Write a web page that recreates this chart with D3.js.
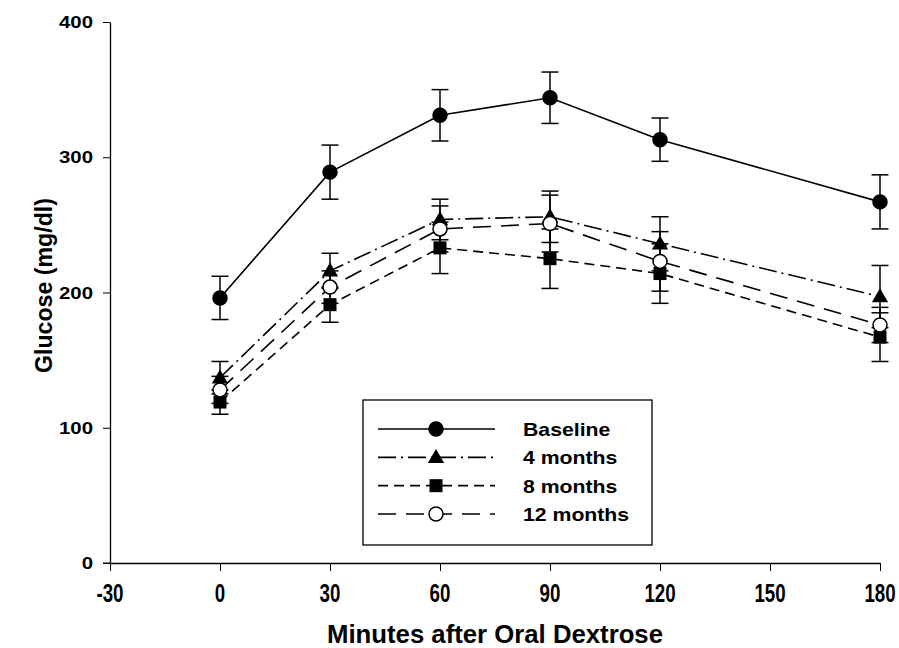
<!DOCTYPE html>
<html>
<head>
<meta charset="utf-8">
<script src="https://cdn.jsdelivr.net/npm/d3@7"></script>
<style>
  body { margin: 0; background: #fff; }
  text { font-family: "Liberation Sans", Arial, sans-serif; font-weight: bold; fill: #000; }
</style>
</head>
<body>
<div id="chart"></div>
<script>
// data
var minutes = [0, 30, 60, 90, 120, 180];
var seriesNames = ["Baseline", "4 months", "8 months", "12 months"];
var baseline    = [196, 289, 331, 344, 313, 267];
var baselineErr = [16, 20, 19, 19, 16, 20];
var month4      = [137, 216, 254, 256, 236, 197];
var month4Err   = [12, 13, 15, 19, 20, 23];
var month8      = [119, 191, 233, 225, 214, 167];
var month8Err   = [9, 13, 19, 22, 22, 18];
var month12     = [128, 204, 247, 251, 223, 176];
var month12Err  = [10, 12, 17, 21, 22, 13];
var xTicks = [-30, 0, 30, 60, 90, 120, 150, 180];
var yTicks = [0, 100, 200, 300, 400];

var W = 899, H = 648;
var svg = d3.select("#chart").append("svg").attr("width", W).attr("height", H);

var x = d3.scaleLinear().domain([-30, 180]).range([110, 880]);
var y = d3.scaleLinear().domain([0, 400]).range([563, 22]);

// series styles
var styles = [
  {dash: null,          marker: "circle",   fill: "#000"},
  {dash: "18,5,2,5",    marker: "triangle", fill: "#000"},
  {dash: "10,6",        marker: "square",   fill: "#000"},
  {dash: "18,10",       marker: "circle",   fill: "#fff"}
];
var values = [baseline, month4, month8, month12];
var errs = [baselineErr, month4Err, month8Err, month12Err];

var series = seriesNames.map(function(n, i) {
  return {name: n, style: styles[i], pts: minutes.map(function(m, j) {
    return {x: m, y: values[i][j], e: errs[i][j]};
  })};
});

// text with horizontal squeeze/stretch (the scan is not square)
function stext(g, tx, ty, sx, size, anchor, str) {
  return g.append("text").attr("transform", "translate(" + tx + "," + ty + ") scale(" + sx + ",1)")
    .attr("text-anchor", anchor).style("font-size", size + "px").text(str);
}

// axes
var yAxis = d3.axisLeft(y).tickValues(yTicks).tickSize(7).tickFormat("").tickSizeOuter(0);
svg.append("g").attr("transform", "translate(110,0)").call(yAxis);
yTicks.forEach(function(t) { stext(svg, 93, y(t) + 6, 1.2, 17, "end", String(t)); });

var xAxis = d3.axisBottom(x).tickValues(xTicks).tickSize(8).tickFormat("").tickSizeOuter(0);
svg.append("g").attr("transform", "translate(0,563)").call(xAxis);
xTicks.forEach(function(t) { stext(svg, x(t), 602, 0.72, 26, "middle", String(t)); });
svg.append("line").attr("x1", 103).attr("x2", 110).attr("y1", 563).attr("y2", 563).attr("stroke", "#000");
svg.selectAll(".domain").attr("stroke-width", 1.3);

// axis titles
svg.append("text").attr("x", 495 - 168).attr("y", 643)
  .attr("textLength", 336).attr("lengthAdjust", "spacingAndGlyphs")
  .style("font-size", "26px").text("Minutes after Oral Dextrose");
svg.append("text").attr("transform", "translate(52,373) rotate(-90)")
  .attr("textLength", 175).attr("lengthAdjust", "spacingAndGlyphs")
  .style("font-size", "23px").text("Glucose (mg/dl)");

// error bars
var capW = 8.5;
series.forEach(function(s) {
  var g = svg.append("g");
  s.pts.forEach(function(p) {
    var cx = x(p.x);
    g.append("line").attr("x1", cx).attr("x2", cx).attr("y1", y(p.y + p.e)).attr("y2", y(p.y - p.e))
      .attr("stroke", "#000").attr("stroke-width", 1.5);
    [p.y + p.e, p.y - p.e].forEach(function(v) {
      g.append("line").attr("x1", cx - capW).attr("x2", cx + capW).attr("y1", y(v)).attr("y2", y(v))
        .attr("stroke", "#000").attr("stroke-width", 1.5);
    });
  });
});

// lines
var line = d3.line().x(function(d) { return x(d.x); }).y(function(d) { return y(d.y); });
series.forEach(function(s) {
  svg.append("path").datum(s.pts).attr("d", line).attr("fill", "none")
    .attr("stroke", "#000").attr("stroke-width", 1.6)
    .attr("stroke-dasharray", s.style.dash);
});

function drawMarker(g, type, fill, cx, cy) {
  if (type == "circle") {
    g.append("circle").attr("cx", cx).attr("cy", cy).attr("r", 7)
      .attr("fill", fill).attr("stroke", "#000").attr("stroke-width", 1.5);
  } else if (type == "triangle") {
    g.append("path").attr("d", d3.symbol().type(d3.symbolTriangle).size(115)())
      .attr("transform", "translate(" + cx + "," + (cy + 1) + ")").attr("fill", fill);
  } else {
    g.append("rect").attr("x", cx - 6.5).attr("y", cy - 6.5).attr("width", 13).attr("height", 13).attr("fill", fill);
  }
}

// markers
series.forEach(function(s) {
  var g = svg.append("g");
  s.pts.forEach(function(p) { drawMarker(g, s.style.marker, s.style.fill, x(p.x), y(p.y)); });
});

// legend
var lg = svg.append("g");
lg.append("rect").attr("x", 363).attr("y", 400).attr("width", 289).attr("height", 145)
  .attr("fill", "#fff").attr("stroke", "#000").attr("stroke-width", 1.3);
var rowY = d3.scalePoint().domain(seriesNames).range([429, 514]);
series.forEach(function(s) {
  var yy = rowY(s.name);
  lg.append("line").attr("x1", 378).attr("x2", 495).attr("y1", yy).attr("y2", yy)
    .attr("stroke", "#000").attr("stroke-width", 1.6).attr("stroke-dasharray", s.style.dash);
  drawMarker(lg, s.style.marker, s.style.fill, 436, yy);
  stext(lg, 523, yy + 7, 1.18, 18, "start", s.name);
});
</script>
</body>
</html>
